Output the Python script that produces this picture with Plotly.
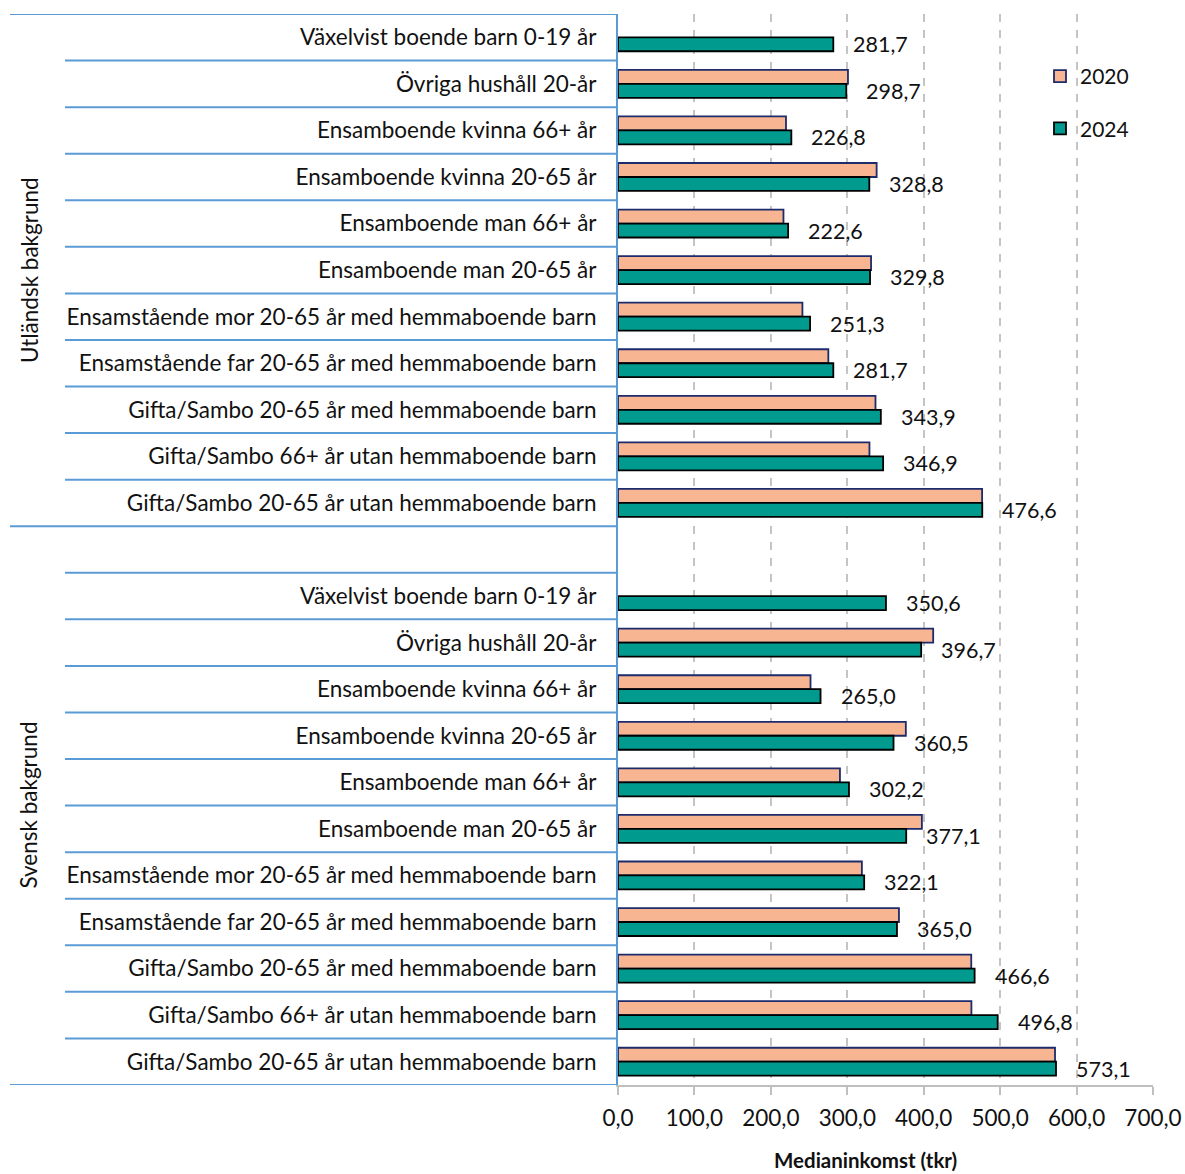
import plotly.graph_objects as go

# ---------------- data ----------------
groups = ["Utländsk bakgrund", "Svensk bakgrund"]
categories = [
    "Växelvist boende barn 0-19 år",
    "Övriga hushåll 20-år",
    "Ensamboende kvinna 66+ år",
    "Ensamboende kvinna 20-65 år",
    "Ensamboende man 66+ år",
    "Ensamboende man 20-65 år",
    "Ensamstående mor 20-65 år med hemmaboende barn",
    "Ensamstående far 20-65 år med hemmaboende barn",
    "Gifta/Sambo 20-65 år med hemmaboende barn",
    "Gifta/Sambo 66+ år utan hemmaboende barn",
    "Gifta/Sambo 20-65 år utan hemmaboende barn",
]
utl_2020 = [None, 300.9, 219.8, 338.4, 216.5, 331.1, 241.3, 275.2, 336.9, 329.0, 476.4]
utl_2024 = [281.7, 298.7, 226.8, 328.8, 222.6, 329.8, 251.3, 281.7, 343.9, 346.9, 476.6]
sve_2020 = [None, 412.4, 251.9, 376.6, 290.4, 397.6, 319.1, 367.6, 462.2, 462.4, 571.8]
sve_2024 = [350.6, 396.7, 265.0, 360.5, 302.2, 377.1, 322.1, 365.0, 466.6, 496.8, 573.1]
series_names = ["2020", "2024"]
x_tick_values = [0, 100, 200, 300, 400, 500, 600, 700]
x_title = "Medianinkomst (tkr)"

# ---------------- layout constants ----------------
W, H = 1185, 1174
ML, MR, MT, MB = 618, 32, 14, 89
PW = W - ML - MR
PH = H - MT - MB
FONT = "Lato"
FS_AXIS = 22.5
FS_LABEL = 21.5
FS_LEG = 21
TXT = "#111111"
BLUE = "#5B9BD5"
C2020 = "#F8B592"
C2020_LINE = "#1C2B6B"
C2024 = "#009A8E"
C2024_LINE = "#000000"

# rows: group 1 rows, then a blank row belonging to group 2, then group 2 rows
row_labels = categories + [""] + categories
v2020 = utl_2020 + [None] + sve_2020
v2024 = utl_2024 + [None] + sve_2024
pos = list(range(len(row_labels)))
n1 = len(categories)

BARGAP = 0.4

fig = go.Figure()
fig.add_trace(go.Bar(
    y=pos, x=v2020, orientation="h", name=series_names[0],
    marker=dict(color=C2020, line=dict(color=C2020_LINE, width=1.8)),
    legendgroup="a",
))
fig.add_trace(go.Bar(
    y=pos, x=v2024, orientation="h", name=series_names[1],
    marker=dict(color=C2024, line=dict(color=C2024_LINE, width=1.8)),
    legendgroup="b",
))

# data labels for 2024
half = (1 - BARGAP) / 4
for p, v in zip(pos, v2024):
    if v is None:
        continue
    fig.add_annotation(
        x=v, y=p + half, xref="x", yref="y",
        text=f"{v:.1f}".replace(".", ","),
        showarrow=False, xanchor="left", yanchor="middle",
        xshift=18, yshift=0,
        font=dict(family=FONT, size=FS_LABEL, color=TXT),
    )

# category separators
def px2paper_x(px):
    return (px - ML) / PW

long_bounds = {-0.5, n1 - 0.5, len(row_labels) - 0.5}
for b in [p - 0.5 for p in pos] + [len(row_labels) - 0.5]:
    x0 = px2paper_x(10) if b in long_bounds else px2paper_x(65)
    fig.add_shape(type="line", xref="paper", yref="y",
                  x0=x0, x1=0, y0=b, y1=b,
                  line=dict(color=BLUE, width=2), layer="above")

# group labels
g_centers = [(-0.5 + n1 - 0.5) / 2, (n1 - 0.5 + len(row_labels) - 0.5) / 2]
for g, c in zip(groups, g_centers):
    fig.add_annotation(
        x=px2paper_x(29), y=c, xref="paper", yref="y",
        text=g, textangle=-90, showarrow=False,
        xanchor="center", yanchor="middle",
        font=dict(family=FONT, size=FS_AXIS, color=TXT),
    )

# x-axis title
fig.add_annotation(
    x=px2paper_x(865), y=-(1160 - (MT + PH)) / PH, xref="paper", yref="paper",
    text=f"<b>{x_title}</b>", showarrow=False, xanchor="center", yanchor="middle",
    font=dict(family=FONT, size=20.5, color=TXT),
)

fig.update_layout(
    width=W, height=H,
    margin=dict(l=ML, r=MR, t=MT, b=MB, pad=0, autoexpand=False),
    paper_bgcolor="white", plot_bgcolor="white",
    barmode="group", bargap=BARGAP, bargroupgap=0,
    separators=",.",
    font=dict(family=FONT, size=FS_AXIS, color=TXT),
    showlegend=True,
    legend=dict(
        x=px2paper_x(1040), y=1 - (56 - MT) / PH, xanchor="left", yanchor="top",
        bgcolor="rgba(0,0,0,0)", traceorder="grouped", tracegroupgap=22,
        itemwidth=30, font=dict(family=FONT, size=FS_LEG, color=TXT),
    ),
    xaxis=dict(
        range=[0, 700], tickvals=x_tick_values, tickformat=".1f",
        automargin=False,
        showgrid=True, gridcolor="#C4C4C4", gridwidth=2, griddash="8px,8px",
        zeroline=False, showline=True, linecolor="#BFBFBF", linewidth=2,
        ticks="outside", ticklen=8, tickcolor="#BFBFBF", tickwidth=2,
        ticklabelstandoff=4,
        tickfont=dict(family=FONT, size=FS_AXIS, color=TXT),
    ),
    yaxis=dict(
        range=[len(row_labels) - 0.5, -0.5],
        tickvals=pos, ticktext=row_labels,
        automargin=False,
        showgrid=False, zeroline=False,
        showline=True, linecolor=BLUE, linewidth=2,
        ticks="", ticklabelstandoff=15,
        tickfont=dict(family=FONT, size=FS_AXIS, color=TXT),
    ),
)

fig.write_html("out.html", config={"displayModeBar": False},
               post_script="document.body.style.margin='0';")
